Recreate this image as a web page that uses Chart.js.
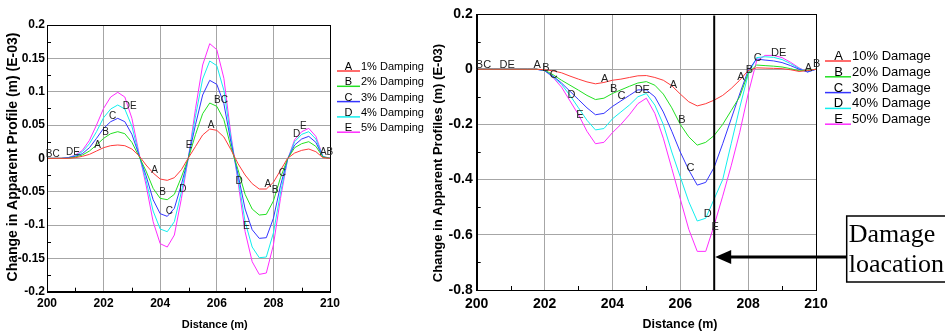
<!DOCTYPE html>
<html>
<head>
<meta charset="utf-8">
<script src="https://cdn.jsdelivr.net/npm/chart.js@4.4.1/dist/chart.umd.min.js"></script>
<style>
  html, body { margin: 0; padding: 0; background: #fff; }
  body { width: 945px; height: 336px; position: relative; overflow: hidden; }
  canvas { position: absolute; top: 0; }
  #dampingChart { left: 0; }
  #damageChart { left: 430px; }
</style>
</head>
<body>
<canvas id="dampingChart" width="430" height="336"></canvas>
<canvas id="damageChart" width="515" height="336"></canvas>
<script>
// sample positions along the profile (m), shared by both panels
const distance = [200, 200.25, 200.5, 200.75, 201, 201.25, 201.5, 201.75, 202, 202.25,
  202.5, 202.75, 203, 203.25, 203.5, 203.75, 204, 204.25, 204.5, 204.75,
  205, 205.25, 205.5, 205.75, 206, 206.25, 206.5, 206.75, 207, 207.25,
  207.5, 207.75, 208, 208.25, 208.5, 208.75, 209, 209.25, 209.5, 209.75, 210];

// left panel: damping cases
const damping1 = [0, 0, 0, 0, 0.001, 0.003, 0.006, 0.011, 0.016, 0.019,
  0.02, 0.019, 0.014, 0.004, -0.01, -0.022, -0.031, -0.033, -0.029, -0.017,
  0.001, 0.018, 0.035, 0.044, 0.042, 0.032, 0.013, -0.008, -0.025, -0.038,
  -0.046, -0.046, -0.036, -0.018, 0, 0.008, 0.012, 0.014, 0.01, 0.001, 0];
const damping2 = [0, 0, 0, 0, 0.002, 0.005, 0.011, 0.02, 0.03, 0.037,
  0.04, 0.037, 0.024, 0.003, -0.019, -0.045, -0.06, -0.062, -0.054, -0.028,
  0.001, 0.036, 0.067, 0.083, 0.078, 0.058, 0.017, -0.017, -0.054, -0.076,
  -0.085, -0.084, -0.064, -0.029, -0.001, 0.016, 0.022, 0.025, 0.018, 0.002, 0];
const damping3 = [0, 0, 0, 0.001, 0.003, 0.007, 0.016, 0.03, 0.045, 0.055,
  0.06, 0.055, 0.036, 0.005, -0.026, -0.062, -0.083, -0.087, -0.075, -0.039,
  0.002, 0.051, 0.095, 0.117, 0.111, 0.082, 0.024, -0.024, -0.076, -0.107,
  -0.12, -0.119, -0.09, -0.041, -0.001, 0.02, 0.029, 0.033, 0.024, 0.002, 0];
const damping4 = [0, 0, 0, 0.001, 0.004, 0.01, 0.022, 0.04, 0.061, 0.074,
  0.08, 0.074, 0.048, 0.006, -0.033, -0.079, -0.106, -0.11, -0.095, -0.05,
  0.002, 0.064, 0.119, 0.146, 0.139, 0.102, 0.03, -0.03, -0.095, -0.133,
  -0.149, -0.148, -0.112, -0.052, -0.002, 0.025, 0.036, 0.04, 0.029, 0.003, 0];
const damping5 = [0, 0, 0, 0.001, 0.005, 0.012, 0.027, 0.05, 0.075, 0.092,
  0.099, 0.092, 0.06, 0.008, -0.04, -0.095, -0.128, -0.133, -0.115, -0.06,
  0.002, 0.075, 0.14, 0.172, 0.163, 0.12, 0.035, -0.035, -0.11, -0.155,
  -0.174, -0.172, -0.13, -0.06, -0.002, 0.028, 0.04, 0.045, 0.033, 0.003, 0];

// right panel: damage cases
const damage10 = [0, 0, 0, 0, 0, 0, 0, 0, -0.002, -0.006,
  -0.013, -0.025, -0.036, -0.046, -0.053, -0.048, -0.04, -0.036, -0.03, -0.024,
  -0.023, -0.03, -0.04, -0.06, -0.09, -0.118, -0.133, -0.125, -0.112, -0.095,
  -0.07, -0.04, -0.005, 0.005, 0.004, 0.003, 0.002, -0.002, -0.008, -0.005, 0];
const damage20 = [0, 0, 0, 0, 0, 0, 0, 0, -0.003, -0.02,
  -0.04, -0.058, -0.076, -0.095, -0.11, -0.105, -0.088, -0.075, -0.062, -0.05,
  -0.045, -0.058, -0.09, -0.14, -0.2, -0.245, -0.275, -0.265, -0.24, -0.2,
  -0.15, -0.1, -0.015, 0.015, 0.013, 0.011, 0.008, 0.002, -0.006, -0.004, 0];
const damage30 = [0, 0, 0, 0, 0, 0, 0, 0, -0.005, -0.025,
  -0.05, -0.08, -0.11, -0.14, -0.165, -0.16, -0.135, -0.115, -0.095, -0.075,
  -0.075, -0.1, -0.155, -0.225, -0.3, -0.365, -0.42, -0.41, -0.355, -0.27,
  -0.18, -0.09, -0.005, 0.037, 0.033, 0.03, 0.024, 0.013, 0, -0.01, 0];
const damage40 = [0, 0, 0, 0, 0, 0, 0, 0, -0.005, -0.028,
  -0.055, -0.095, -0.14, -0.185, -0.22, -0.215, -0.18, -0.155, -0.13, -0.1,
  -0.088, -0.13, -0.2, -0.3, -0.39, -0.48, -0.55, -0.54, -0.47, -0.4,
  -0.27, -0.14, -0.02, 0.042, 0.045, 0.043, 0.035, 0.02, 0.003, -0.01, 0];
const damage50 = [0, 0, 0, 0, 0, 0, 0, 0, -0.005, -0.03,
  -0.065, -0.115, -0.165, -0.225, -0.27, -0.265, -0.23, -0.2, -0.165, -0.125,
  -0.105, -0.16, -0.25, -0.36, -0.47, -0.58, -0.66, -0.66, -0.565, -0.46,
  -0.35, -0.23, -0.09, 0.03, 0.05, 0.05, 0.042, 0.025, 0.005, -0.01, 0];

const seriesLetters = ['A', 'B', 'C', 'D', 'E'];
const seriesColors = ['#ff3b3b', '#22e022', '#3535ff', '#12eeee', '#ff2cff'];
const dampingLabels = ['1% Damping', '2% Damping', '3% Damping', '4% Damping', '5% Damping'];
const damageLabels = ['10% Damage', '20% Damage', '30% Damage', '40% Damage', '50% Damage'];

// curve letters [text, distance, value]
const dampingTags = [
  ['BC', 200.2, 0.0065], ['DE', 200.92, 0.009], ['A', 201.79, 0.019], ['B', 202.07, 0.0385],
  ['C', 202.32, 0.0635], ['DE', 202.92, 0.0775], ['A', 203.8, -0.0175], ['B', 204.08, -0.0515],
  ['C', 204.32, -0.079], ['D', 204.8, -0.046], ['E', 205.02, 0.019], ['A', 205.8, 0.05],
  ['BC', 206.15, 0.0875], ['D', 206.79, -0.034], ['E', 207.04, -0.1025], ['A', 207.8, -0.0385],
  ['B', 208.06, -0.0485], ['C', 208.32, -0.0225], ['D', 208.82, 0.036], ['E', 209.06, 0.0475],
  ['AB', 209.88, 0.0085]
];
const damageTags = [
  ['BC', 200.2, 0.017], ['DE', 200.9, 0.0145], ['A', 201.78, 0.017], ['B', 202.04, 0.005],
  ['C', 202.27, -0.022], ['D', 202.79, -0.092], ['E', 203.04, -0.167], ['A', 203.77, -0.034],
  ['B', 204.04, -0.07], ['C', 204.27, -0.097], ['DE', 204.88, -0.076], ['A', 205.8, -0.058],
  ['B', 206.05, -0.185], ['C', 206.3, -0.359], ['D', 206.81, -0.525], ['E', 207.03, -0.571],
  ['A', 207.79, -0.028], ['B', 208.04, -0.004], ['C', 208.28, 0.042], ['DE', 208.9, 0.057],
  ['A', 209.78, 0.006], ['B', 210.02, 0.02]
];

// damage location marker
const damageAt = 207;
const damageLineTop = 0.195;
const damageArrowAt = -0.68;

Chart.defaults.font.family = '"Liberation Sans", Arial, sans-serif';
Chart.defaults.color = '#000';

function lineSet(values, color) {
    return {
        data: values.map((v, i) => ({ x: distance[i], y: v })),
        borderColor: color,
        borderWidth: 1,
        pointRadius: 0,
        tension: 0,
        fill: false
    };
}

function axes(c) {
    return {
        x: {
            type: 'linear',
            min: c.xMin, max: c.xMax,
            ticks: { stepSize: 2, padding: c.xPad, maxRotation: 0, font: { size: c.tickSize, weight: 'bold' } },
            grid: { color: '#a6a6a6', drawTicks: false },
            border: { color: '#000' },
            afterFit: s => { s.height = c.xHeight; }
        },
        y: {
            min: c.yMin, max: c.yMax,
            ticks: {
                stepSize: c.yStep, padding: c.yPad, font: { size: c.tickSize, weight: 'bold' },
                callback: v => String(Math.round(v * 1000) / 1000)
            },
            grid: { color: '#a6a6a6', drawTicks: false },
            border: { color: '#000' },
            afterFit: s => { s.width = c.yWidth; }
        }
    };
}

// minor ticks, frame, curve letters, legend, titles and callout
const decor = {
    id: 'decor',
    afterDraw(chart, args, o) {
        const { ctx, chartArea: a } = chart;
        const xs = chart.scales.x, ys = chart.scales.y;
        ctx.save();

        ctx.strokeStyle = '#000';
        ctx.lineWidth = 1;
        ctx.beginPath();
        for (let i = 1; i < xs.ticks.length; i++) {
            const px = Math.round(xs.getPixelForValue((xs.ticks[i - 1].value + xs.ticks[i].value) / 2)) + 0.5;
            ctx.moveTo(px, a.bottom);
            ctx.lineTo(px, a.bottom - 4);
        }
        for (let i = 1; i < ys.ticks.length; i++) {
            const py = Math.round(ys.getPixelForValue((ys.ticks[i - 1].value + ys.ticks[i].value) / 2)) + 0.5;
            ctx.moveTo(a.left, py);
            ctx.lineTo(a.left + 4, py);
        }
        ctx.stroke();
        ctx.strokeRect(Math.round(a.left) + 0.5, Math.round(a.top) + 0.5, Math.round(a.width), Math.round(a.height));

        ctx.font = o.tagFont;
        ctx.fillStyle = '#222';
        ctx.textAlign = 'center';
        ctx.textBaseline = 'middle';
        o.tags.forEach(([t, x, y]) => ctx.fillText(t, xs.getPixelForValue(x), ys.getPixelForValue(y)));

        const lg = o.legend;
        ctx.font = lg.font;
        ctx.textBaseline = 'alphabetic';
        lg.labels.forEach((label, i) => {
            const ly = lg.y + i * lg.gap;
            ctx.strokeStyle = seriesColors[i];
            ctx.lineWidth = 1.5;
            ctx.beginPath();
            ctx.moveTo(lg.x0, ly);
            ctx.lineTo(lg.x1, ly);
            ctx.stroke();
            ctx.fillStyle = '#000';
            ctx.textAlign = 'center';
            ctx.fillText(seriesLetters[i], lg.letterX, ly - 1);
            ctx.textAlign = 'left';
            ctx.fillText(label, lg.textX, ly - 1);
        });

        ctx.fillStyle = '#000';
        ctx.textAlign = 'center';
        ctx.textBaseline = 'middle';
        o.titles.forEach(t => {
            ctx.save();
            ctx.font = t.font;
            ctx.translate(t.x, t.y);
            if (t.rotate) ctx.rotate(-Math.PI / 2);
            ctx.fillText(t.text, 0, 0);
            ctx.restore();
        });

        if (o.callout) {
            const c = o.callout;
            const tipX = xs.getPixelForValue(damageAt) + 1;
            const ay = ys.getPixelForValue(damageArrowAt);
            const boxX = a.right + c.gap;
            ctx.strokeStyle = '#000';
            ctx.lineWidth = 3;
            ctx.beginPath();
            ctx.moveTo(boxX, ay);
            ctx.lineTo(tipX + 14, ay);
            ctx.stroke();
            ctx.fillStyle = '#000';
            ctx.beginPath();
            ctx.moveTo(tipX, ay);
            ctx.lineTo(tipX + 16, ay - 7);
            ctx.lineTo(tipX + 16, ay + 7);
            ctx.closePath();
            ctx.fill();
            ctx.lineWidth = 1.5;
            ctx.strokeRect(boxX, c.top, 140, c.height);
            ctx.font = '26px "Liberation Serif", "Times New Roman", serif';
            ctx.textAlign = 'left';
            ctx.textBaseline = 'alphabetic';
            c.lines.forEach((s, i) => ctx.fillText(s, boxX + 2, c.top + 26 + i * 30));
        }
        ctx.restore();
    }
};

new Chart(document.getElementById('dampingChart'), {
    type: 'line',
    data: {
        datasets: [damping1, damping2, damping3, damping4, damping5].map((d, i) => lineSet(d, seriesColors[i]))
    },
    options: {
        responsive: false,
        animation: false,
        layout: { padding: { top: 25, right: 100, left: 0, bottom: 0 } },
        scales: axes({ xMin: 200, xMax: 210, yMin: -0.2, yMax: 0.2, yStep: 0.05, tickSize: 12,
            xPad: 5, yPad: 2, xHeight: 44.3, yWidth: 47 }),
        plugins: {
            legend: { display: false },
            tooltip: { enabled: false },
            decor: {
                tags: dampingTags,
                tagFont: '10px "Liberation Sans", Arial, sans-serif',
                legend: { labels: dampingLabels, x0: 337, x1: 360, letterX: 348.5, textX: 361,
                    y: 71, gap: 15.3, font: '11px "Liberation Sans", Arial, sans-serif' },
                titles: [
                    { text: 'Change in Apparent Profile (m) (E-03)', x: 13.5, y: 157, rotate: true,
                      font: 'bold 14px "Liberation Sans", Arial, sans-serif' },
                    { text: 'Distance (m)', x: 214.7, y: 325,
                      font: 'bold 11px "Liberation Sans", Arial, sans-serif' }
                ]
            }
        }
    },
    plugins: [decor]
});

const markerSet = {
    data: [{ x: damageAt, y: damageLineTop }, { x: damageAt, y: -0.8 }],
    borderColor: '#000',
    borderWidth: 2,
    pointRadius: 0,
    fill: false
};

new Chart(document.getElementById('damageChart'), {
    type: 'line',
    data: {
        datasets: [markerSet].concat([damage10, damage20, damage30, damage40, damage50].map((d, i) => lineSet(d, seriesColors[i])))
    },
    options: {
        responsive: false,
        animation: false,
        layout: { padding: { top: 14, right: 129, left: 0, bottom: 0 } },
        scales: axes({ xMin: 200, xMax: 210, yMin: -0.8, yMax: 0.2, yStep: 0.2, tickSize: 14,
            xPad: 6, yPad: 4, xHeight: 46, yWidth: 46.7 }),
        plugins: {
            legend: { display: false },
            tooltip: { enabled: false },
            decor: {
                tags: damageTags,
                tagFont: '11px "Liberation Sans", Arial, sans-serif',
                legend: { labels: damageLabels, x0: 395, x1: 421, letterX: 408.5, textX: 422,
                    y: 61, gap: 15.8, font: '13px "Liberation Sans", Arial, sans-serif' },
                titles: [
                    { text: 'Change in Apparent Profiles (m) (E-03)', x: 8.5, y: 163, rotate: true,
                      font: 'bold 13px "Liberation Sans", Arial, sans-serif' },
                    { text: 'Distance (m)', x: 250, y: 325,
                      font: 'bold 12.5px "Liberation Sans", Arial, sans-serif' }
                ],
                callout: { gap: 30.7, top: 216, height: 66, lines: ['Damage', 'loacation'] }
            }
        }
    },
    plugins: [decor]
});
</script>
</body>
</html>
